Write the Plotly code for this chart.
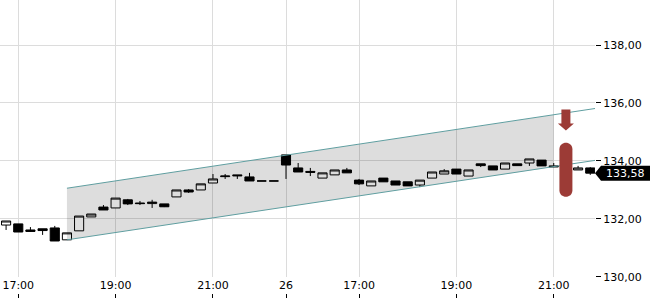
import plotly.graph_objects as go

# ---- data (15-minute candles, index-based axis) ----
idx = list(range(49))
opens  = [131.79, 131.83, 131.62, 131.66, 131.69, 131.28, 131.59, 132.07, 132.41, 132.38,
          132.66, 132.55, 132.53, 132.52, 132.76, 133.00, 133.00, 133.24, 133.46, 133.52,
          133.45, 133.31, 133.31, 134.21, 133.76, 133.64, 133.41, 133.52, 133.69, 133.34,
          133.14, 133.41, 133.31, 133.28, 133.17, 133.41, 133.55, 133.72, 133.48, 133.90,
          133.83, 133.72, 133.90, 133.93, 134.03, 133.83, 133.79, 133.69, 133.76]
highs  = [131.93, 131.83, 131.72, 131.66, 131.76, 131.52, 132.10, 132.17, 132.48, 132.72,
          132.69, 132.62, 132.66, 132.52, 133.00, 133.03, 133.21, 133.55, 133.55, 133.52,
          133.59, 133.31, 133.31, 134.21, 133.93, 133.76, 133.59, 133.69, 133.76, 133.38,
          133.31, 133.41, 133.31, 133.28, 133.34, 133.62, 133.72, 133.72, 133.69, 133.90,
          133.83, 133.93, 133.90, 134.07, 134.03, 133.93, 133.79, 133.83, 133.79]
lows   = [131.62, 131.55, 131.55, 131.45, 131.24, 131.28, 131.59, 132.07, 132.31, 132.38,
          132.48, 132.48, 132.38, 132.41, 132.76, 132.90, 133.00, 133.24, 133.38, 133.38,
          133.31, 133.31, 133.31, 133.38, 133.62, 133.48, 133.41, 133.52, 133.59, 133.17,
          133.14, 133.28, 133.17, 133.14, 133.10, 133.41, 133.55, 133.55, 133.48, 133.79,
          133.69, 133.72, 133.84, 133.83, 133.83, 133.79, 133.62, 133.69, 133.52]
closes = [131.93, 131.55, 131.57, 131.60, 131.24, 131.52, 132.10, 132.17, 132.31, 132.72,
          132.52, 132.53, 132.58, 132.42, 133.00, 132.93, 133.21, 133.38, 133.48, 133.49,
          133.31, 133.31, 133.31, 133.86, 133.62, 133.61, 133.59, 133.69, 133.59, 133.21,
          133.31, 133.28, 133.17, 133.14, 133.34, 133.62, 133.66, 133.55, 133.69, 133.84,
          133.69, 133.93, 133.84, 134.07, 133.83, 133.80, 133.62, 133.76, 133.58]

tick_idx = [1, 9, 17, 23, 29, 37, 45]
tick_text = ["17:00", "19:00", "21:00", "26", "17:00", "19:00", "21:00"]
y_ticks = [130, 132, 134, 136, 138]

channel_x = [5, 48.4]
channel_upper = [133.06, 135.81]
channel_lower = [131.28, 134.02]
band_x = [5, 45]
band_upper = [133.06, 135.59]
band_lower = [131.28, 133.80]

signal_idx = 46
arrow_tip = 135.05
pill_mid = 133.70
last_price = 133.58

FONT = "DejaVu Sans"
GRID = "#dcdcdc"
RED = "#9c3b36"
TEAL = "#5f9ea0"

fig = go.Figure()

# gray channel band
fig.add_trace(go.Scatter(x=band_x, y=band_lower, mode="lines", line=dict(width=0),
                         showlegend=False, hoverinfo="skip"))
fig.add_trace(go.Scatter(x=band_x, y=band_upper, mode="lines", line=dict(width=0),
                         fill="tonexty", fillcolor="rgba(0,0,0,0.135)",
                         showlegend=False, hoverinfo="skip"))

# candles
fig.add_trace(go.Candlestick(
    x=idx, open=opens, high=highs, low=lows, close=closes,
    increasing=dict(line=dict(color="black", width=1), fillcolor="white"),
    decreasing=dict(line=dict(color="black", width=1), fillcolor="black"),
    showlegend=False, hoverinfo="skip"))

# channel lines
fig.add_trace(go.Scatter(x=channel_x, y=channel_upper, mode="lines",
                         line=dict(color=TEAL, width=1), showlegend=False, hoverinfo="skip"))
fig.add_trace(go.Scatter(x=channel_x, y=channel_lower, mode="lines",
                         line=dict(color=TEAL, width=1), showlegend=False, hoverinfo="skip"))

# dummy trace for the tick-mark axis
fig.add_trace(go.Scatter(x=[tick_idx[0]], y=[None], xaxis="x2", yaxis="y",
                         showlegend=False, hoverinfo="skip"))

x_range = [-0.5, 48.39]
fig.update_layout(
    width=650, height=300,
    margin=dict(l=0, r=55, t=0, b=0, autoexpand=False),
    paper_bgcolor="white", plot_bgcolor="white",
    separators=",.",
    boxgap=0.25, boxgroupgap=0,
    font=dict(family=FONT, size=11, color="black"),
    xaxis=dict(range=x_range, tickvals=tick_idx, ticktext=tick_text,
               showgrid=True, gridcolor=GRID, gridwidth=1, ticks="",
               zeroline=False, showline=False, rangeslider=dict(visible=False),
               automargin=False,
               tickfont=dict(family=FONT, size=11, color="black")),
    xaxis2=dict(range=x_range, matches="x", overlaying="x", anchor="free", position=0.008,
                tickvals=tick_idx, showticklabels=False, ticks="inside", ticklen=4,
                tickcolor="black", tickwidth=1, showgrid=False, zeroline=False, showline=False,
                automargin=False),
    yaxis=dict(domain=[23/300, 1], range=[129.998, 139.552], side="right",
               tickvals=y_ticks, tickformat=".2f", ticks="outside", ticklen=5,
               tickcolor="black", tickwidth=1, showgrid=True, gridcolor=GRID,
               zeroline=False, showline=False, automargin=False,
               tickfont=dict(family=FONT, size=11, color="black")),
)

pill_path = ("M-6.5,20.5 C-6.5,29.2 6.5,29.2 6.5,20.5 L6.5,-20.5 "
             "C6.5,-29.2 -6.5,-29.2 -6.5,-20.5 Z")
arrow_path = "M-4.5,21 L4.5,21 L4.5,7 L8,7 L0,0 L-8,7 L-4.5,7 Z"
tag_path = "M0,0 L6,7.5 L60,7.5 L60,-7.5 L6,-7.5 Z"

fig.add_shape(type="path", xref="x", yref="y", xsizemode="pixel", ysizemode="pixel",
              xanchor=signal_idx, yanchor=pill_mid, path=pill_path,
              fillcolor=RED, line=dict(width=0), layer="above")
fig.add_shape(type="path", xref="x", yref="y", xsizemode="pixel", ysizemode="pixel",
              xanchor=signal_idx, yanchor=arrow_tip, path=arrow_path,
              fillcolor=RED, line=dict(width=0), layer="above")
fig.add_shape(type="path", xref="paper", yref="y", xsizemode="pixel", ysizemode="pixel",
              xanchor=1, yanchor=last_price, path=tag_path,
              fillcolor="black", line=dict(width=0), layer="above")

fig.add_annotation(x=1, xref="paper", y=last_price, yref="y", xanchor="left",
                   yanchor="middle", xshift=9, showarrow=False,
                   text=f"{last_price:.2f}".replace(".", ","),
                   font=dict(family=FONT, size=11, color="white"))

fig.write_html("out.html")
